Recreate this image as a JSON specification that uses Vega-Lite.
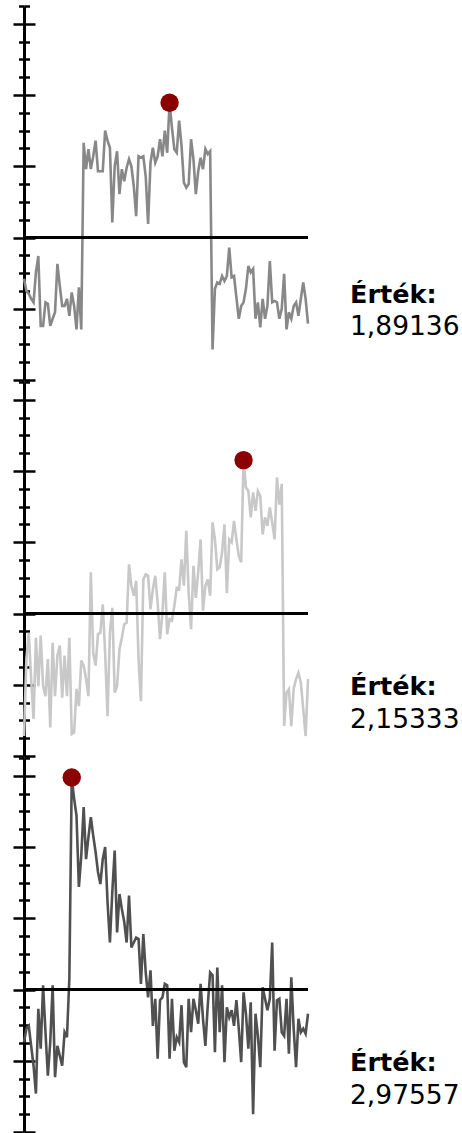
{
"$schema": "https://vega.github.io/schema/vega-lite/v6.json",
"padding": {"left": 11, "top": 4, "right": 2, "bottom": 0},
"spacing": 2,
"bounds": "flush",
"background": "white",
"config": {"view": {"stroke": null}, "locale": {"number": {"decimal": ",", "thousands": " ", "grouping": [3], "currency": ["", " Ft"]}}},
"datasets": {
"s1": [{"i":0,"v":-0.58},{"i":1,"v":-0.75},{"i":2,"v":-0.79},{"i":3,"v":-0.86},{"i":4,"v":-0.91},{"i":5,"v":-0.49},{"i":6,"v":-0.26},{"i":7,"v":-1.24},{"i":8,"v":-1.24},{"i":9,"v":-0.91},{"i":10,"v":-0.93},{"i":11,"v":-1.24},{"i":12,"v":-1.14},{"i":13,"v":-1.05},{"i":14,"v":-0.37},{"i":15,"v":-0.68},{"i":16,"v":-0.96},{"i":17,"v":-0.96},{"i":18,"v":-0.86},{"i":19,"v":-1.10},{"i":20,"v":-0.77},{"i":21,"v":-0.96},{"i":22,"v":-1.29},{"i":23,"v":-0.70},{"i":24,"v":-1.29},{"i":25,"v":1.33},{"i":26,"v":0.96},{"i":27,"v":1.24},{"i":28,"v":0.96},{"i":29,"v":1.14},{"i":30,"v":1.36},{"i":31,"v":0.93},{"i":32,"v":0.93},{"i":33,"v":0.93},{"i":34,"v":1.50},{"i":35,"v":1.36},{"i":36,"v":1.26},{"i":37,"v":0.21},{"i":38,"v":1.00},{"i":39,"v":1.21},{"i":40,"v":0.61},{"i":41,"v":0.96},{"i":42,"v":0.79},{"i":43,"v":0.98},{"i":44,"v":1.10},{"i":45,"v":1.00},{"i":46,"v":0.72},{"i":47,"v":0.30},{"i":48,"v":1.14},{"i":49,"v":1.12},{"i":50,"v":1.14},{"i":51,"v":0.86},{"i":52,"v":0.19},{"i":53,"v":1.05},{"i":54,"v":1.26},{"i":55,"v":1.05},{"i":56,"v":1.14},{"i":57,"v":1.38},{"i":58,"v":1.14},{"i":59,"v":1.50},{"i":60,"v":1.19},{"i":61,"v":1.89136},{"i":62,"v":1.54},{"i":63,"v":1.24},{"i":64,"v":1.19},{"i":65,"v":1.64},{"i":66,"v":1.29},{"i":67,"v":0.77},{"i":68,"v":0.70},{"i":69,"v":0.75},{"i":70,"v":1.38},{"i":71,"v":1.10},{"i":72,"v":0.61},{"i":73,"v":0.93},{"i":74,"v":1.12},{"i":75,"v":0.96},{"i":76,"v":1.24},{"i":77,"v":1.17},{"i":78,"v":1.21},{"i":79,"v":-1.57},{"i":80,"v":-0.72},{"i":81,"v":-0.63},{"i":82,"v":-0.65},{"i":83,"v":-0.54},{"i":84,"v":-0.61},{"i":85,"v":-0.54},{"i":86,"v":-0.14},{"i":87,"v":-0.56},{"i":88,"v":-0.54},{"i":89,"v":-0.84},{"i":90,"v":-1.14},{"i":91,"v":-0.96},{"i":92,"v":-0.91},{"i":93,"v":-0.72},{"i":94,"v":-0.40},{"i":95,"v":-0.49},{"i":96,"v":-0.44},{"i":97,"v":-1.14},{"i":98,"v":-0.91},{"i":99,"v":-1.26},{"i":100,"v":-0.86},{"i":101,"v":-1.14},{"i":102,"v":-0.96},{"i":103,"v":-0.33},{"i":104,"v":-0.91},{"i":105,"v":-0.89},{"i":106,"v":-0.91},{"i":107,"v":-1.14},{"i":108,"v":-1.00},{"i":109,"v":-0.51},{"i":110,"v":-1.29},{"i":111,"v":-1.05},{"i":112,"v":-1.14},{"i":113,"v":-0.96},{"i":114,"v":-0.91},{"i":115,"v":-1.10},{"i":116,"v":-0.86},{"i":117,"v":-0.63},{"i":118,"v":-0.86},{"i":119,"v":-1.21}],
"s2": [{"i":0,"v":-1.72},{"i":1,"v":-0.64},{"i":2,"v":-0.27},{"i":3,"v":-0.92},{"i":4,"v":-1.48},{"i":5,"v":-0.34},{"i":6,"v":-1.02},{"i":7,"v":-0.31},{"i":8,"v":-1.02},{"i":9,"v":-1.16},{"i":10,"v":-0.64},{"i":11,"v":-1.60},{"i":12,"v":-0.41},{"i":13,"v":-1.16},{"i":14,"v":-0.59},{"i":15,"v":-0.45},{"i":16,"v":-1.18},{"i":17,"v":-0.59},{"i":18,"v":-1.16},{"i":19,"v":-0.34},{"i":20,"v":-1.69},{"i":21,"v":-1.67},{"i":22,"v":-1.06},{"i":23,"v":-1.30},{"i":24,"v":-0.66},{"i":25,"v":-0.73},{"i":26,"v":-0.92},{"i":27,"v":-1.16},{"i":28,"v":0.58},{"i":29,"v":-0.55},{"i":30,"v":-0.73},{"i":31,"v":-0.29},{"i":32,"v":-0.27},{"i":33,"v":0.13},{"i":34,"v":-0.55},{"i":35,"v":-1.44},{"i":36,"v":-0.27},{"i":37,"v":0.08},{"i":38,"v":-1.11},{"i":39,"v":-1.02},{"i":40,"v":-0.50},{"i":41,"v":-0.34},{"i":42,"v":-0.15},{"i":43,"v":-0.13},{"i":44,"v":0.69},{"i":45,"v":0.39},{"i":46,"v":0.25},{"i":47,"v":0.46},{"i":48,"v":-0.64},{"i":49,"v":-1.23},{"i":50,"v":0.48},{"i":51,"v":0.55},{"i":52,"v":0.53},{"i":53,"v":0.06},{"i":54,"v":0.34},{"i":55,"v":0.53},{"i":56,"v":0.15},{"i":57,"v":-0.36},{"i":58,"v":0.01},{"i":59,"v":0.58},{"i":60,"v":-0.29},{"i":61,"v":-0.08},{"i":62,"v":-0.10},{"i":63,"v":0.11},{"i":64,"v":0.36},{"i":65,"v":0.34},{"i":66,"v":0.76},{"i":67,"v":0.39},{"i":68,"v":1.16},{"i":69,"v":0.29},{"i":70,"v":-0.22},{"i":71,"v":0.67},{"i":72,"v":0.22},{"i":73,"v":0.58},{"i":74,"v":1.04},{"i":75,"v":0.04},{"i":76,"v":0.39},{"i":77,"v":0.48},{"i":78,"v":0.25},{"i":79,"v":1.28},{"i":80,"v":1.04},{"i":81,"v":0.62},{"i":82,"v":0.65},{"i":83,"v":0.86},{"i":84,"v":1.25},{"i":85,"v":0.29},{"i":86,"v":1.04},{"i":87,"v":1.00},{"i":88,"v":1.30},{"i":89,"v":1.04},{"i":90,"v":0.81},{"i":91,"v":0.72},{"i":92,"v":2.15333},{"i":93,"v":1.77},{"i":94,"v":1.72},{"i":95,"v":1.35},{"i":96,"v":1.70},{"i":97,"v":1.44},{"i":98,"v":1.72},{"i":99,"v":1.65},{"i":100,"v":1.11},{"i":101,"v":1.35},{"i":102,"v":1.23},{"i":103,"v":1.49},{"i":104,"v":1.28},{"i":105,"v":1.04},{"i":106,"v":1.91},{"i":107,"v":1.53},{"i":108,"v":1.82},{"i":109,"v":-1.58},{"i":110,"v":-1.11},{"i":111,"v":-1.06},{"i":112,"v":-1.58},{"i":113,"v":-1.06},{"i":114,"v":-0.92},{"i":115,"v":-0.83},{"i":116,"v":-0.97},{"i":117,"v":-1.34},{"i":118,"v":-1.72},{"i":119,"v":-0.92}],
"s3": [{"i":0,"v":-0.74},{"i":1,"v":-0.55},{"i":2,"v":-0.51},{"i":3,"v":-0.79},{"i":4,"v":-1.07},{"i":5,"v":-1.46},{"i":6,"v":-0.27},{"i":7,"v":-0.83},{"i":8,"v":0.06},{"i":9,"v":-0.60},{"i":10,"v":-1.21},{"i":11,"v":-0.74},{"i":12,"v":0.06},{"i":13,"v":-1.23},{"i":14,"v":-0.79},{"i":15,"v":-0.93},{"i":16,"v":-1.07},{"i":17,"v":-0.60},{"i":18,"v":-0.67},{"i":19,"v":0.15},{"i":20,"v":2.97557},{"i":21,"v":2.68},{"i":22,"v":2.44},{"i":23,"v":1.44},{"i":24,"v":1.88},{"i":25,"v":2.56},{"i":26,"v":1.83},{"i":27,"v":2.14},{"i":28,"v":2.42},{"i":29,"v":2.16},{"i":30,"v":1.93},{"i":31,"v":1.65},{"i":32,"v":1.48},{"i":33,"v":1.83},{"i":34,"v":2.00},{"i":35,"v":1.23},{"i":36,"v":0.66},{"i":37,"v":1.37},{"i":38,"v":1.95},{"i":39,"v":0.80},{"i":40,"v":1.34},{"i":41,"v":1.13},{"i":42,"v":0.95},{"i":43,"v":0.66},{"i":44,"v":1.32},{"i":45,"v":0.59},{"i":46,"v":0.66},{"i":47,"v":0.73},{"i":48,"v":0.71},{"i":49,"v":0.08},{"i":50,"v":0.78},{"i":51,"v":0.24},{"i":52,"v":-0.11},{"i":53,"v":0.27},{"i":54,"v":-0.51},{"i":55,"v":-0.13},{"i":56,"v":-0.97},{"i":57,"v":-0.15},{"i":58,"v":-0.11},{"i":59,"v":0.08},{"i":60,"v":0.06},{"i":61,"v":-0.97},{"i":62,"v":-0.13},{"i":63,"v":-0.86},{"i":64,"v":-0.67},{"i":65,"v":-0.74},{"i":66,"v":-0.22},{"i":67,"v":-1.02},{"i":68,"v":-1.09},{"i":69,"v":-0.13},{"i":70,"v":-0.60},{"i":71,"v":-0.13},{"i":72,"v":-0.29},{"i":73,"v":-0.48},{"i":74,"v":0.08},{"i":75,"v":-0.41},{"i":76,"v":-0.79},{"i":77,"v":-0.22},{"i":78,"v":0.24},{"i":79,"v":0.20},{"i":80,"v":-0.88},{"i":81,"v":0.31},{"i":82,"v":-0.60},{"i":83,"v":0.06},{"i":84,"v":-1.02},{"i":85,"v":-0.25},{"i":86,"v":-0.39},{"i":87,"v":-0.29},{"i":88,"v":-0.51},{"i":89,"v":-0.15},{"i":90,"v":-0.55},{"i":91,"v":-1.02},{"i":92,"v":-0.04},{"i":93,"v":-0.34},{"i":94,"v":-0.83},{"i":95,"v":-0.18},{"i":96,"v":-1.75},{"i":97,"v":-0.34},{"i":98,"v":-0.65},{"i":99,"v":-1.09},{"i":100,"v":0.03},{"i":101,"v":-0.13},{"i":102,"v":-0.29},{"i":103,"v":-0.13},{"i":104,"v":0.66},{"i":105,"v":-0.86},{"i":106,"v":-0.15},{"i":107,"v":-0.13},{"i":108,"v":-0.60},{"i":109,"v":-0.65},{"i":110,"v":-0.13},{"i":111,"v":-0.90},{"i":112,"v":0.17},{"i":113,"v":-0.55},{"i":114,"v":-1.09},{"i":115,"v":-0.41},{"i":116,"v":-0.60},{"i":117,"v":-0.55},{"i":118,"v":-0.62},{"i":119,"v":-0.34}]
},
"vconcat": [
{
"width": 284, "height": 374,
"data": {"name": "s1"},
"layer": [
{"mark": {"type": "line", "color": "#888888", "strokeWidth": 2.6},
 "encoding": {
  "x": {"field": "i", "type": "quantitative", "scale": {"domain": [0, 119], "nice": false, "zero": false}, "axis": null},
  "y": {"field": "v", "type": "quantitative", "scale": {"domain": [-2, 3.25], "nice": false, "zero": false},
   "axis": {"orient": "left", "values": [-2,-1.75,-1.5,-1.25,-1,-0.75,-0.5,-0.25,0,0.25,0.5,0.75,1,1.25,1.5,1.75,2,2.25,2.5,2.75,3,3.25], "labels": false, "title": null, "grid": false, "domain": true, "domainColor": "#000000", "domainWidth": 3, "tickColor": "#000000", "tickWidth": 2.5, "tickSize": {"condition": {"test": "datum.value % 1 === 0", "value": 11}, "value": 5.5}}}}},
{"mark": {"type": "rule", "color": "#000000", "strokeWidth": 3},
 "encoding": {"y": {"datum": 0, "type": "quantitative", "scale": {"domain": [-2, 3.25], "nice": false, "zero": false},
   "axis": {"orient": "left", "values": [-2,-1.75,-1.5,-1.25,-1,-0.75,-0.5,-0.25,0,0.25,0.5,0.75,1,1.25,1.5,1.75,2,2.25,2.5,2.75,3,3.25], "labels": false, "title": null, "grid": false, "domain": false, "tickColor": "#000000", "tickWidth": 2.5, "tickSize": {"condition": {"test": "datum.value % 1 === 0", "value": -11}, "value": -5.5}}}}},
{"transform": [{"joinaggregate": [{"op": "max", "field": "v", "as": "m"}]}, {"filter": "datum.v === datum.m"}],
 "mark": {"type": "point", "filled": true, "opacity": 1, "size": 340, "color": "#8b0000"},
 "encoding": {
  "x": {"field": "i", "type": "quantitative"},
  "y": {"field": "v", "type": "quantitative", "axis": null}}},
{"transform": [{"aggregate": [{"op": "max", "field": "v", "as": "m"}]}],
 "mark": {"type": "text", "align": "left", "baseline": "alphabetic", "dx": 42, "dy": -77, "fontSize": 25.5, "font": "DejaVu Sans", "fontWeight": "bold", "color": "#000000"},
 "encoding": {"x": {"value": "width"}, "y": {"value": "height"}, "text": {"value": "Érték:"}}},
{"transform": [{"aggregate": [{"op": "max", "field": "v", "as": "m"}]}],
 "mark": {"type": "text", "align": "left", "baseline": "alphabetic", "dx": 42, "dy": -45, "fontSize": 26.5, "font": "DejaVu Sans", "color": "#000000"},
 "encoding": {"x": {"value": "width"}, "y": {"value": "height"}, "text": {"field": "m", "type": "quantitative", "format": ".5f"}}}
],
"resolve": {"axis": {"y": "independent"}}
},
{
"width": 284, "height": 374,
"data": {"name": "s2"},
"layer": [
{"mark": {"type": "line", "color": "#c8c8c8", "strokeWidth": 2.6},
 "encoding": {
  "x": {"field": "i", "type": "quantitative", "scale": {"domain": [0, 119], "nice": false, "zero": false}, "axis": null},
  "y": {"field": "v", "type": "quantitative", "scale": {"domain": [-2, 3.25], "nice": false, "zero": false},
   "axis": {"orient": "left", "values": [-2,-1.75,-1.5,-1.25,-1,-0.75,-0.5,-0.25,0,0.25,0.5,0.75,1,1.25,1.5,1.75,2,2.25,2.5,2.75,3,3.25], "labels": false, "title": null, "grid": false, "domain": true, "domainColor": "#000000", "domainWidth": 3, "tickColor": "#000000", "tickWidth": 2.5, "tickSize": {"condition": {"test": "datum.value % 1 === 0", "value": 11}, "value": 5.5}}}}},
{"mark": {"type": "rule", "color": "#000000", "strokeWidth": 3},
 "encoding": {"y": {"datum": 0, "type": "quantitative", "scale": {"domain": [-2, 3.25], "nice": false, "zero": false},
   "axis": {"orient": "left", "values": [-2,-1.75,-1.5,-1.25,-1,-0.75,-0.5,-0.25,0,0.25,0.5,0.75,1,1.25,1.5,1.75,2,2.25,2.5,2.75,3,3.25], "labels": false, "title": null, "grid": false, "domain": false, "tickColor": "#000000", "tickWidth": 2.5, "tickSize": {"condition": {"test": "datum.value % 1 === 0", "value": -11}, "value": -5.5}}}}},
{"transform": [{"joinaggregate": [{"op": "max", "field": "v", "as": "m"}]}, {"filter": "datum.v === datum.m"}],
 "mark": {"type": "point", "filled": true, "opacity": 1, "size": 340, "color": "#8b0000"},
 "encoding": {
  "x": {"field": "i", "type": "quantitative"},
  "y": {"field": "v", "type": "quantitative", "axis": null}}},
{"transform": [{"aggregate": [{"op": "max", "field": "v", "as": "m"}]}],
 "mark": {"type": "text", "align": "left", "baseline": "alphabetic", "dx": 42, "dy": -61, "fontSize": 25.5, "font": "DejaVu Sans", "fontWeight": "bold", "color": "#000000"},
 "encoding": {"x": {"value": "width"}, "y": {"value": "height"}, "text": {"value": "Érték:"}}},
{"transform": [{"aggregate": [{"op": "max", "field": "v", "as": "m"}]}],
 "mark": {"type": "text", "align": "left", "baseline": "alphabetic", "dx": 42, "dy": -28, "fontSize": 26.5, "font": "DejaVu Sans", "color": "#000000"},
 "encoding": {"x": {"value": "width"}, "y": {"value": "height"}, "text": {"field": "m", "type": "quantitative", "format": ".5f"}}}
],
"resolve": {"axis": {"y": "independent"}}
},
{
"width": 284, "height": 374,
"data": {"name": "s3"},
"layer": [
{"mark": {"type": "line", "color": "#505050", "strokeWidth": 2.6},
 "encoding": {
  "x": {"field": "i", "type": "quantitative", "scale": {"domain": [0, 119], "nice": false, "zero": false}, "axis": null},
  "y": {"field": "v", "type": "quantitative", "scale": {"domain": [-2, 3.25], "nice": false, "zero": false},
   "axis": {"orient": "left", "values": [-2,-1.75,-1.5,-1.25,-1,-0.75,-0.5,-0.25,0,0.25,0.5,0.75,1,1.25,1.5,1.75,2,2.25,2.5,2.75,3,3.25], "labels": false, "title": null, "grid": false, "domain": true, "domainColor": "#000000", "domainWidth": 3, "tickColor": "#000000", "tickWidth": 2.5, "tickSize": {"condition": {"test": "datum.value % 1 === 0", "value": 11}, "value": 5.5}}}}},
{"mark": {"type": "rule", "color": "#000000", "strokeWidth": 3},
 "encoding": {"y": {"datum": 0, "type": "quantitative", "scale": {"domain": [-2, 3.25], "nice": false, "zero": false},
   "axis": {"orient": "left", "values": [-2,-1.75,-1.5,-1.25,-1,-0.75,-0.5,-0.25,0,0.25,0.5,0.75,1,1.25,1.5,1.75,2,2.25,2.5,2.75,3,3.25], "labels": false, "title": null, "grid": false, "domain": false, "tickColor": "#000000", "tickWidth": 2.5, "tickSize": {"condition": {"test": "datum.value % 1 === 0", "value": -11}, "value": -5.5}}}}},
{"transform": [{"joinaggregate": [{"op": "max", "field": "v", "as": "m"}]}, {"filter": "datum.v === datum.m"}],
 "mark": {"type": "point", "filled": true, "opacity": 1, "size": 340, "color": "#8b0000"},
 "encoding": {
  "x": {"field": "i", "type": "quantitative"},
  "y": {"field": "v", "type": "quantitative", "axis": null}}},
{"transform": [{"aggregate": [{"op": "max", "field": "v", "as": "m"}]}],
 "mark": {"type": "text", "align": "left", "baseline": "alphabetic", "dx": 42, "dy": -61, "fontSize": 25.5, "font": "DejaVu Sans", "fontWeight": "bold", "color": "#000000"},
 "encoding": {"x": {"value": "width"}, "y": {"value": "height"}, "text": {"value": "Érték:"}}},
{"transform": [{"aggregate": [{"op": "max", "field": "v", "as": "m"}]}],
 "mark": {"type": "text", "align": "left", "baseline": "alphabetic", "dx": 42, "dy": -28, "fontSize": 26.5, "font": "DejaVu Sans", "color": "#000000"},
 "encoding": {"x": {"value": "width"}, "y": {"value": "height"}, "text": {"field": "m", "type": "quantitative", "format": ".5f"}}}
],
"resolve": {"axis": {"y": "independent"}}
}
]
}
